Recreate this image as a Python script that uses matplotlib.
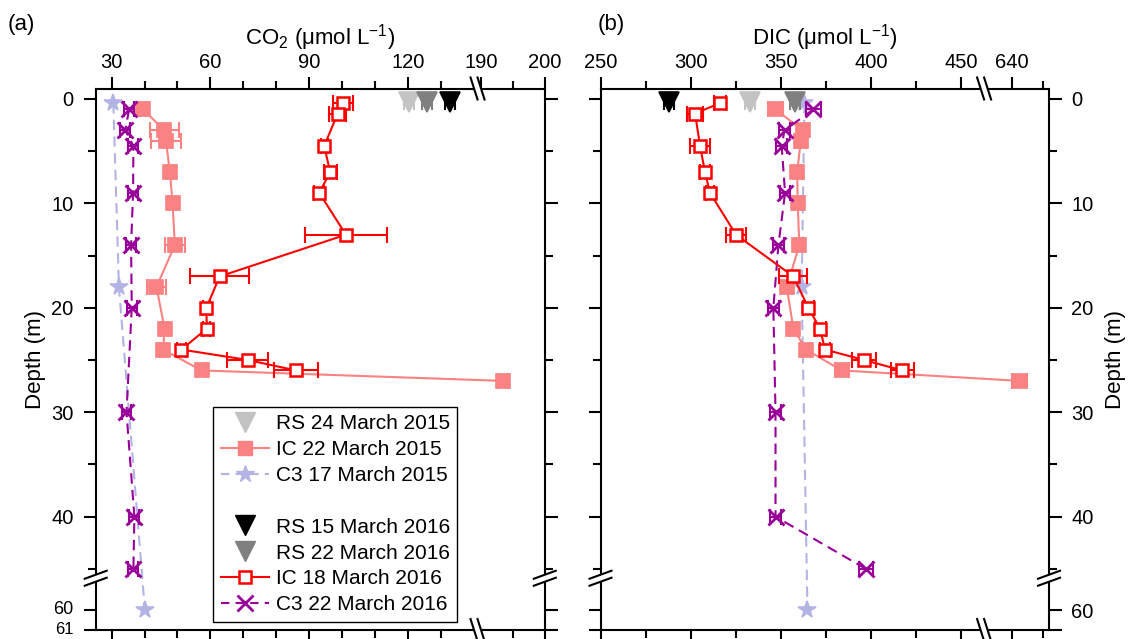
import numpy as np
import matplotlib
matplotlib.use('Agg')
import matplotlib.pyplot as plt
from matplotlib.lines import Line2D
from matplotlib.patches import Polygon

plt.rcParams['font.family'] = ['Liberation Sans', 'DejaVu Sans']
plt.rcParams['mathtext.fontset'] = 'custom'
plt.rcParams['mathtext.rm'] = 'Liberation Sans'
plt.rcParams['mathtext.it'] = 'Liberation Sans:italic'

# ---------------- data ----------------
# Panel (a): CO2 (umol/L)
rs15_depth = [0.3]
rs15_co2 = [120.5]
rs15_co2_err = [1.5]
rs16a_depth = [0.3]            # RS 15 March 2016
rs16a_co2 = [132.9]
rs16a_co2_err = [1.5]
rs16b_depth = [0.3]            # RS 22 March 2016
rs16b_co2 = [125.8]
rs16b_co2_err = [1.5]

ic15_depth = [1, 3, 4, 7, 10, 14, 18, 22, 24, 26, 27]
ic15_co2 = [39.5, 46.0, 46.5, 47.7, 48.5, 49.2, 43.6, 46.1, 45.6, 57.3, 193.4]
ic15_co2_err = [1.0, 4.5, 4.5, 1.0, 1.0, 3.0, 2.8, 1.0, 1.0, 1.5, 0.8]

ic16_depth = [0.4, 1.4, 4.5, 7, 9, 13, 17, 20, 22, 24, 25, 26]
ic16_co2 = [100.2, 98.7, 94.6, 96.4, 93.1, 101.2, 62.8, 58.8, 58.9, 51.2, 71.4, 86.0]
ic16_co2_err = [3.0, 2.5, 1.0, 2.0, 1.5, 12.5, 9.0, 1.0, 1.0, 1.5, 6.2, 6.8]

c315_depth = [0.4, 18, 60]
c315_co2 = [30.5, 32.2, 40.1]

c316_depth = [1, 3, 4.5, 9, 14, 20, 30, 40, 45]
c316_co2 = [35.3, 34.1, 36.6, 36.5, 35.9, 36.1, 34.5, 36.9, 36.6]
c316_co2_err = [1.5] * 9

# Panel (b): DIC (umol/L)
rs15_dic = [332.9]
rs15_dic_err = [3.0]
rs16a_dic = [288.0]
rs16a_dic_err = [3.0]
rs16b_dic = [357.8]
rs16b_dic_err = [3.0]

ic15_dic = [347.0, 362.0, 361.0, 359.0, 359.3, 360.2, 353.2, 356.9, 363.9, 383.7, 645.0]
ic15_dic_err = [4.0, 3.0, 3.0, 2.0, 2.0, 2.0, 3.0, 2.0, 2.0, 4.0, 5.0]

ic16_dic = [316.2, 302.4, 305.2, 307.9, 310.7, 325.1, 356.9, 365.2, 371.7, 374.4, 396.0, 417.3]
ic16_dic_err = [3.2, 4.6, 5.5, 3.0, 2.0, 5.7, 7.8, 3.0, 3.0, 3.0, 6.8, 6.5]

c315_dic = [363.0, 361.5, 364.7]

c316_dic = [368.0, 352.0, 350.4, 352.3, 348.6, 345.8, 347.0, 347.0, 397.0]
c316_dic_err = [4.0, 3.0, 3.0, 3.0, 3.0, 3.0, 3.0, 3.0, 4.0]

# axis ticks
co2_major = [30, 60, 90, 120, 190, 200]
co2_minor = [40, 50, 70, 80, 100, 110, 130, 195]
dic_major = [250, 300, 350, 400, 450, 640]
dic_minor = [275, 325, 375, 425, 660]
depth_major = [0, 10, 20, 30, 40, 60, 61]
depth_minor = [5, 15, 25, 35, 45]
depth_labels_left = ['0', '10', '20', '30', '40', '', '']
depth_labels_right = ['0', '10', '20', '30', '40', '60', '']
depth_bottom_labels = ['60', '61']   # drawn separately (tightly stacked)

labels = ['RS 24 March 2015', 'IC 22 March 2015', 'C3 17 March 2015', ' ',
          'RS 15 March 2016', 'RS 22 March 2016', 'IC 18 March 2016', 'C3 22 March 2016']

# colours
C_RS15 = '#C3C3C3'
C_RS16A = '#000000'
C_RS16B = '#808080'
C_IC15 = '#FA8282'
C_IC16 = '#FF0000'
C_C315 = '#B4B4E4'
C_C316 = '#990099'

# ---------------- broken scales ----------------
Y_XP = [-10.0, 45.9, 58.36, 100.0]
Y_FP = [-10.0, 45.9, 45.92, 45.92 + (100.0 - 58.36) * 1.87]
def yf(d): return np.interp(d, Y_XP, Y_FP)
def yi(u): return np.interp(u, Y_FP, Y_XP)

XA_XP = [-100.0, 141.2, 189.4, 1000.0]
XA_FP = [-100.0, 141.2, 141.22, 141.22 + (1000.0 - 189.4) * 1.927]
def xaf(v): return np.interp(v, XA_XP, XA_FP)
def xai(u): return np.interp(u, XA_FP, XA_XP)

XB_XP = [0.0, 462.6, 623.0, 2000.0]
XB_FP = [0.0, 462.6, 462.84, 462.84 + (2000.0 - 623.0) * 0.88]
def xbf(v): return np.interp(v, XB_XP, XB_FP)
def xbi(u): return np.interp(u, XB_FP, XB_XP)

W, H = 1128, 639
fig = plt.figure(figsize=(W / 100, H / 100), dpi=100)

def px_axes(l, r, t, b):
    return [l / W, 1 - b / H, (r - l) / W, (b - t) / H]

ax1 = fig.add_axes(px_axes(95.7, 544.8, 88.5, 630))
ax2 = fig.add_axes(px_axes(600.5, 1049, 88.5, 630))

LW = 1.5
CAP = 5.5

def series(ax, x, y, err, color, ls, marker, ms, mfc=None, mew=1.2, z=3):
    if ls != 'none':
        ax.plot(x, y, ls=ls, color=color, lw=LW, zorder=z, dashes=(5, 3) if ls == '--' else (None, None))
    if err is not None:
        ax.errorbar(x, y, xerr=err, fmt='none', ecolor=color, elinewidth=LW,
                    capsize=CAP, capthick=LW, zorder=z)
    ax.plot(x, y, ls='none', marker=marker, ms=ms, color=color,
            mfc=mfc if mfc else color, mec=color, mew=mew, zorder=z + 0.5)

def draw_panel(ax, fwd, inv, xlim, rs15, rs16a, rs16b, ic15, ic16, c315, c316,
               rs15e, rs16ae, rs16be, ic15e, ic16e, c316e):
    ax.set_xscale('function', functions=(fwd, inv))
    ax.set_yscale('function', functions=(yf, yi))
    series(ax, c315, c315_depth, None, C_C315, '--', '*', 13, z=2)
    series(ax, ic15, ic15_depth, ic15e, C_IC15, '-', 's', 9.5, z=3)
    series(ax, c316, c316_depth, c316e, C_C316, '--', 'x', 11, mew=2.0, z=4)
    series(ax, ic16, ic16_depth, ic16e, C_IC16, '-', 's', 9, mfc='white', mew=1.8, z=5)
    series(ax, rs15, rs15_depth, rs15e, C_RS15, 'none', 'v', 14.5, z=6)
    series(ax, rs16b, rs16b_depth, rs16be, C_RS16B, 'none', 'v', 14.5, z=6)
    series(ax, rs16a, rs16a_depth, rs16ae, C_RS16A, 'none', 'v', 14.5, z=6)
    ax.set_xlim(*xlim)
    ax.set_ylim(61, -1.0)
    for sp in ax.spines.values():
        sp.set_linewidth(1.5)
    ax.tick_params(which='both', direction='out', top=True, bottom=True,
                   left=True, right=True, width=1.5, labelsize=14.5)
    ax.tick_params(which='major', length=9, pad=3)
    ax.tick_params(which='minor', length=5.5)
    ax.set_yticks(depth_major)
    ax.set_yticks(depth_minor, minor=True)

draw_panel(ax1, xaf, xai, (25.14, 200), rs15_co2, rs16a_co2, rs16b_co2, ic15_co2, ic16_co2,
           c315_co2, c316_co2, rs15_co2_err, rs16a_co2_err, rs16b_co2_err,
           ic15_co2_err, ic16_co2_err, c316_co2_err)
draw_panel(ax2, xbf, xbi, (250, 663.6), rs15_dic, rs16a_dic, rs16b_dic, ic15_dic, ic16_dic,
           c315_dic, c316_dic, rs15_dic_err, rs16a_dic_err, rs16b_dic_err,
           ic15_dic_err, ic16_dic_err, c316_dic_err)

ax1.set_xticks(co2_major)
ax1.set_xticklabels([str(v) for v in co2_major])
ax1.set_xticks(co2_minor, minor=True)
ax2.set_xticks(dic_major)
ax2.set_xticklabels([str(v) for v in dic_major])
ax2.set_xticks(dic_minor, minor=True)

ax1.set_yticklabels(depth_labels_left)
ax2.set_yticklabels(depth_labels_right)

ax1.tick_params(labeltop=True, labelbottom=False, labelleft=True, labelright=False)
ax2.tick_params(labeltop=True, labelbottom=False, labelleft=False, labelright=True)
ax1.tick_params(axis='y', pad=7)
ax2.tick_params(axis='y', pad=7)

# tightly stacked "60" / "61" labels at the bottom of the left axis
ax1.annotate(depth_bottom_labels[0], xy=(0, depth_major[-2]), xycoords=('axes fraction', 'data'),
             xytext=(-16, 0.6), textcoords='offset points', ha='right', va='center',
             fontsize=13, annotation_clip=False)
ax1.annotate(depth_bottom_labels[1], xy=(0, depth_major[-1]), xycoords=('axes fraction', 'data'),
             xytext=(-16, 0.4), textcoords='offset points', ha='right', va='center',
             fontsize=12, annotation_clip=False)

ax1.xaxis.set_label_position('top')
ax2.xaxis.set_label_position('top')
ax1.set_xlabel('CO$_2$ (\u03bcmol L$^{-1}$)', fontsize=16, labelpad=6)
ax2.set_xlabel('DIC (\u03bcmol L$^{-1}$)', fontsize=16, labelpad=6)
ax1.set_ylabel('Depth (m)', fontsize=16, labelpad=4)
ax2.yaxis.set_label_position('right')
ax2.set_ylabel('Depth (m)', fontsize=16, labelpad=8)

fig.text(8 / W, 1 - 30 / H, '(a)', fontsize=16)
fig.text(598 / W, 1 - 30 / H, '(b)', fontsize=16)

# ---------------- break marks ----------------
def ax_px(ax):
    bb = ax.get_position()
    return bb.width * W, bb.height * H

def xbreak(ax, frac, ypos):
    wpx, hpx = ax_px(ax)
    cx = frac * wpx
    cy = ypos * hpx
    pts = []
    for s in (-3.5, 3.5):
        x0, y0 = cx - 3.5 + s, cy + 11
        x1, y1 = cx + 3.5 + s, cy - 11
        pts.append(((x0, y0), (x1, y1)))
    poly = [pts[0][0], pts[1][0], pts[1][1], pts[0][1]]
    ax.add_patch(Polygon([(x / wpx, y / hpx) for x, y in poly], closed=True,
                         transform=ax.transAxes, facecolor='white', edgecolor='none',
                         clip_on=False, zorder=20))
    for (x0, y0), (x1, y1) in pts:
        ax.plot([x0 / wpx, x1 / wpx], [y0 / hpx, y1 / hpx], color='black', lw=1.5,
                transform=ax.transAxes, clip_on=False, zorder=21)

def ybreak(ax, frac, xpos):
    wpx, hpx = ax_px(ax)
    cx = xpos * wpx
    cy = frac * hpx
    pts = []
    for s in (-3.5, 3.5):
        x0, y0 = cx - 11, cy - 4 + s
        x1, y1 = cx + 11, cy + 4 + s
        pts.append(((x0, y0), (x1, y1)))
    poly = [pts[0][0], pts[0][1], pts[1][1], pts[1][0]]
    ax.add_patch(Polygon([(x / wpx, y / hpx) for x, y in poly], closed=True,
                         transform=ax.transAxes, facecolor='white', edgecolor='none',
                         clip_on=False, zorder=20))
    for (x0, y0), (x1, y1) in pts:
        ax.plot([x0 / wpx, x1 / wpx], [y0 / hpx, y1 / hpx], color='black', lw=1.5,
                transform=ax.transAxes, clip_on=False, zorder=21)

def frac_of(fwd, v, lo, hi):
    return (fwd(v) - fwd(lo)) / (fwd(hi) - fwd(lo))

fa = frac_of(xaf, 141.21, 25.14, 200)
fb = frac_of(xbf, 462.7, 250, 663.6)
fy = 1 - (yf(45.91) - yf(-1.0)) / (yf(61) - yf(-1.0))
for ax, fx in ((ax1, fa), (ax2, fb)):
    xbreak(ax, fx, 1.0)
    xbreak(ax, fx, 0.0)
    ybreak(ax, fy, 0.0)
    ybreak(ax, fy, 1.0)

# ---------------- legend ----------------
handles = [
    Line2D([], [], ls='none', marker='v', ms=14.5, color=C_RS15),
    Line2D([], [], ls='-', lw=LW, marker='s', ms=9.5, color=C_IC15),
    Line2D([], [], ls='--', dashes=(4, 3), lw=LW, marker='*', ms=13, color=C_C315),
    Line2D([], [], ls='none'),
    Line2D([], [], ls='none', marker='v', ms=14.5, color=C_RS16A),
    Line2D([], [], ls='none', marker='v', ms=14.5, color=C_RS16B),
    Line2D([], [], ls='-', lw=LW, marker='s', ms=9, color=C_IC16, mfc='white', mew=1.8),
    Line2D([], [], ls='--', dashes=(4, 3), lw=LW, marker='x', ms=11, mew=2.0, color=C_C316),
]
leg = ax1.legend(handles, labels, loc='upper left', bbox_to_anchor=(0.262, 0.412),
                 borderaxespad=0, fontsize=15, frameon=True, fancybox=False,
                 edgecolor='black', framealpha=1, handlelength=2.3, handletextpad=0.35,
                 labelspacing=0.33, borderpad=0.35)
leg.get_frame().set_linewidth(1.0)
leg.set_zorder(30)

fig.savefig('out.png', dpi=100)
